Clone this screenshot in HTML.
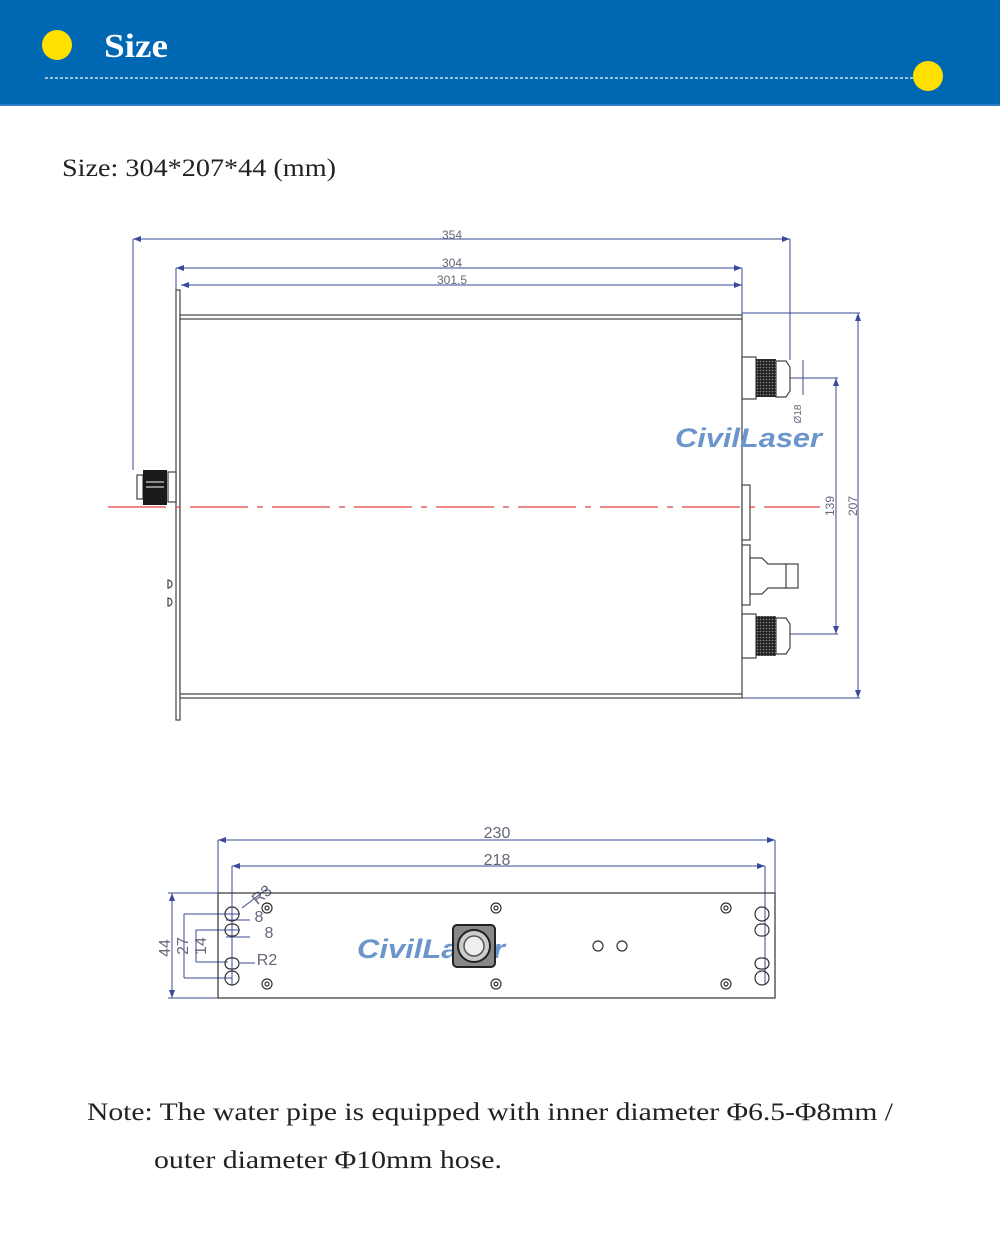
<!DOCTYPE html>
<html><head><meta charset="utf-8"><style>
html,body{margin:0;padding:0;background:#fff;}
body{width:1000px;height:1233px;position:relative;overflow:hidden;font-family:"Liberation Serif",serif;}
svg{position:absolute;left:0;top:0;}
</style></head><body>
<svg width="1000" height="1233" viewBox="0 0 1000 1233" xmlns="http://www.w3.org/2000/svg">
<defs>
<marker id="a" markerWidth="8" markerHeight="6" refX="8" refY="3" orient="auto-start-reverse"><path d="M0,0 L8,3 L0,6z" fill="#3a4a9a"/></marker>
<pattern id="kn" width="3" height="3" patternUnits="userSpaceOnUse"><rect width="3" height="3" fill="#222"/><circle cx="1.5" cy="1.5" r="0.8" fill="#888"/></pattern>
</defs>
<!-- header -->
<rect x="0" y="0" width="1000" height="104" fill="#0068b3"/>
<rect x="0" y="104" width="1000" height="2" fill="#2a7fc8"/>
<ellipse cx="57" cy="45" rx="15" ry="15" fill="#ffe000"/>
<ellipse cx="928" cy="76" rx="15" ry="15" fill="#ffe000"/>
<line x1="45" y1="78" x2="913" y2="78" stroke="#cfe0f0" stroke-width="1.5" stroke-dasharray="3,2"/>
<text x="104" y="57" font-family="Liberation Serif,serif" font-weight="bold" font-size="34" fill="#fff" textLength="64" lengthAdjust="spacingAndGlyphs">Size</text>
<text x="62" y="176" font-size="25" fill="#222" textLength="274" lengthAdjust="spacingAndGlyphs">Size: 304*207*44 (mm)</text>

<g stroke="#3a4a9a" stroke-width="1" fill="none">
<line x1="133" y1="239" x2="790" y2="239" marker-start="url(#a)" marker-end="url(#a)"/>
<line x1="176" y1="268" x2="742" y2="268" marker-start="url(#a)" marker-end="url(#a)"/>
<line x1="181" y1="285" x2="742" y2="285" marker-start="url(#a)" marker-end="url(#a)"/>
<line x1="133" y1="239" x2="133" y2="470"/>
<line x1="790" y1="239" x2="790" y2="360"/>
<line x1="176" y1="268" x2="176" y2="290"/>
<line x1="742" y1="268" x2="742" y2="315"/>
<line x1="858" y1="313" x2="858" y2="698" marker-start="url(#a)" marker-end="url(#a)"/>
<line x1="742" y1="313" x2="860" y2="313"/>
<line x1="742" y1="698" x2="860" y2="698"/>
<line x1="836" y1="378" x2="836" y2="634" marker-start="url(#a)" marker-end="url(#a)"/>
<line x1="790" y1="378" x2="838" y2="378"/>
<line x1="790" y1="634" x2="838" y2="634"/>
<line x1="803" y1="360" x2="803" y2="395"/>
</g>
<g font-family="Liberation Sans,sans-serif" font-size="12" fill="#667" text-anchor="middle">
<text x="452" y="239">354</text>
<text x="452" y="267">304</text>
<text x="452" y="284">301.5</text>
<text transform="translate(834,506) rotate(-90)">139</text>
<text transform="translate(857,506) rotate(-90)">207</text>
<text transform="translate(801,414) rotate(-90)" font-size="10">Ø18</text>
</g>
<!-- top view body -->
<g stroke="#444" stroke-width="1.2" fill="#fff">
<rect x="176" y="290" width="4" height="430"/>
<rect x="180" y="315" width="562" height="383"/>
<line x1="180" y1="319" x2="742" y2="319"/>
<line x1="180" y1="694" x2="742" y2="694"/>
<rect x="168" y="472" width="8" height="30"/>
<rect x="137" y="475" width="6" height="24"/>
<rect x="742" y="357" width="14" height="42"/>
<path d="M776,361 h10 l4,6 v24 l-4,6 h-10z"/>
<rect x="742" y="614" width="14" height="44"/>
<path d="M776,618 h10 l4,6 v24 l-4,6 h-10z"/>
<rect x="742" y="485" width="8" height="55"/>
<rect x="742" y="545" width="8" height="60"/>
<path d="M750,558 h12 l6,6 h20 v24 h-20 l-6,6 h-12z"/>
<rect x="786" y="564" width="12" height="24"/>
<path d="M168,580 a4,4 0 0 1 0,8z M168,598 a4,4 0 0 1 0,8z"/>
</g>
<rect x="143" y="470" width="24" height="35" fill="#1a1a1a"/>
<line x1="146" y1="482" x2="164" y2="482" stroke="#fff"/>
<line x1="146" y1="487" x2="164" y2="487" stroke="#fff"/>
<rect x="756" y="359" width="20" height="38" fill="url(#kn)"/>
<rect x="756" y="616" width="20" height="40" fill="url(#kn)"/>
<line x1="108" y1="507" x2="820" y2="507" stroke="#e04040" stroke-width="1.2" stroke-dasharray="58,9,6,9"/>
<text x="675" y="447" font-family="Liberation Sans,sans-serif" font-weight="bold" font-style="italic" font-size="27" fill="#6a96cc" textLength="147" lengthAdjust="spacingAndGlyphs">CivilLaser</text>

<!-- bottom view -->
<g stroke="#3a4a9a" stroke-width="1" fill="none">
<line x1="218" y1="840" x2="775" y2="840" marker-start="url(#a)" marker-end="url(#a)"/>
<line x1="232" y1="866" x2="765" y2="866" marker-start="url(#a)" marker-end="url(#a)"/>
<line x1="218" y1="840" x2="218" y2="893"/>
<line x1="775" y1="840" x2="775" y2="893"/>
<line x1="232" y1="866" x2="232" y2="985"/>
<line x1="765" y1="866" x2="765" y2="985"/>
<line x1="172" y1="893" x2="172" y2="998" marker-start="url(#a)" marker-end="url(#a)"/>
<line x1="168" y1="893" x2="218" y2="893"/>
<line x1="168" y1="998" x2="218" y2="998"/>
<line x1="184" y1="914" x2="184" y2="978"/>
<line x1="184" y1="914" x2="240" y2="914"/>
<line x1="184" y1="978" x2="232" y2="978"/>
<line x1="196" y1="930" x2="196" y2="962"/>
<line x1="196" y1="930" x2="240" y2="930"/>
<line x1="196" y1="962" x2="228" y2="962"/>
<line x1="226" y1="937" x2="250" y2="937"/>
<line x1="226" y1="920" x2="250" y2="920"/>
<line x1="242" y1="908" x2="268" y2="888"/>
<line x1="240" y1="963" x2="255" y2="963"/>
</g>
<g font-family="Liberation Sans,sans-serif" font-size="16" fill="#667" text-anchor="middle">
<text x="497" y="838">230</text>
<text x="497" y="865">218</text>
<text transform="translate(170,948) rotate(-90)">44</text>
<text transform="translate(188,946) rotate(-90)">27</text>
<text transform="translate(206,946) rotate(-90)">14</text>
<text x="262" y="900" transform="rotate(-40 262 895)">R3</text>
<text x="259" y="922">8</text>
<text x="269" y="938">8</text>
<text x="267" y="965">R2</text>
</g>
<g stroke="#333" stroke-width="1.2" fill="none">
<rect x="218" y="893" width="557" height="105"/>
<circle cx="232" cy="914" r="7"/><rect x="225" y="924" width="14" height="12" rx="6"/>
<rect x="225" y="958" width="14" height="11" rx="5.5"/><circle cx="232" cy="978" r="7"/>
<circle cx="762" cy="914" r="7"/><rect x="755" y="924" width="14" height="12" rx="6"/>
<rect x="755" y="958" width="14" height="11" rx="5.5"/><circle cx="762" cy="978" r="7"/>
<circle cx="267" cy="908" r="5"/><circle cx="267" cy="908" r="2"/>
<circle cx="267" cy="984" r="5"/><circle cx="267" cy="984" r="2"/>
<circle cx="496" cy="908" r="5"/><circle cx="496" cy="908" r="2"/>
<circle cx="496" cy="984" r="5"/><circle cx="496" cy="984" r="2"/>
<circle cx="726" cy="908" r="5"/><circle cx="726" cy="908" r="2"/>
<circle cx="726" cy="984" r="5"/><circle cx="726" cy="984" r="2"/>
<circle cx="598" cy="946" r="5"/><circle cx="622" cy="946" r="5"/>
</g>
<text x="357" y="958" font-family="Liberation Sans,sans-serif" font-weight="bold" font-style="italic" font-size="27" fill="#6a96cc" textLength="148" lengthAdjust="spacingAndGlyphs">CivilLaser</text>
<rect x="453" y="925" width="42" height="42" rx="4" fill="#888" stroke="#222" stroke-width="2"/>
<circle cx="474" cy="946" r="16" fill="#ccc" stroke="#222" stroke-width="2"/>
<circle cx="474" cy="946" r="10" fill="#eee" stroke="#555" stroke-width="1.5"/>

<text x="87" y="1120" font-size="25" fill="#222" textLength="806" lengthAdjust="spacingAndGlyphs">Note: The water pipe is equipped with inner diameter Φ6.5-Φ8mm /</text>
<text x="154" y="1168" font-size="25" fill="#222" textLength="348" lengthAdjust="spacingAndGlyphs">outer diameter Φ10mm hose.</text>
</svg>
</body></html>
